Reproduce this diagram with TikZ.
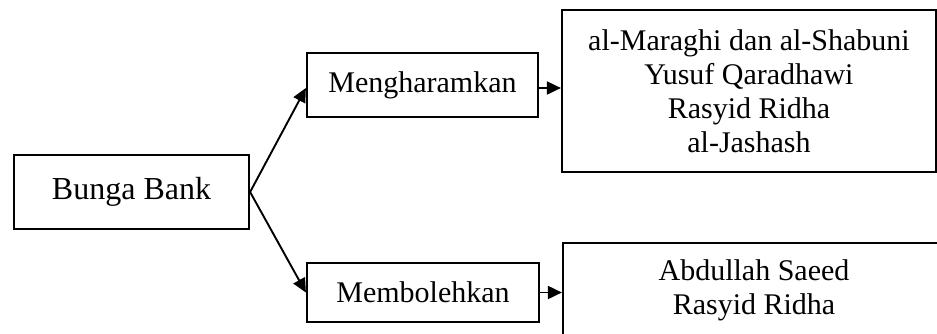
\documentclass[tikz,border=0pt]{standalone}
\usepackage{fontspec}
\setmainfont{Liberation Serif}
\usetikzlibrary{arrows.meta}
\begin{document}
\begin{tikzpicture}[x=1pt,y=-1pt,
  box/.style={draw=black,line width=2.2pt,rectangle,inner sep=0pt,align=center,
    font=\fontsize{30}{34}\selectfont},
  arr/.style={line width=1.9pt,-{Triangle[length=14pt,width=13pt]}}]
\useasboundingbox (0,0) rectangle (937,333);
\clip (0,0) rectangle (937,333);
\node[box,minimum width=235pt,minimum height=74pt,font=\fontsize{32}{36}\selectfont] (bunga) at (131.5,192) {Bunga Bank};
\node[box,minimum width=231pt,minimum height=64pt] (meng) at (422.5,85) {Mengharamkan};
\node[box,minimum width=232pt,minimum height=59pt] (memb) at (423,292.5) {Membolehkan};
\node[box,minimum width=374pt,minimum height=162pt] (tr) at (749,91)
  {al-Maraghi dan al-Shabuni\\Yusuf Qaradhawi\\Rasyid Ridha\\al-Jashash};
\node[box,minimum width=382pt,minimum height=94pt] (br) at (754,290)
  {Abdullah Saeed\\Rasyid Ridha};
\draw[arr] (bunga.east) -- ([yshift=-3pt]meng.west);
\draw[arr] (bunga.east) -- (memb.west);
\draw[arr] ([yshift=-3pt]meng.east) -- ([yshift=-3pt]meng.east -| tr.west);
\draw[arr] (memb.east) -- (memb.east -| br.west);
\end{tikzpicture}
\end{document}
